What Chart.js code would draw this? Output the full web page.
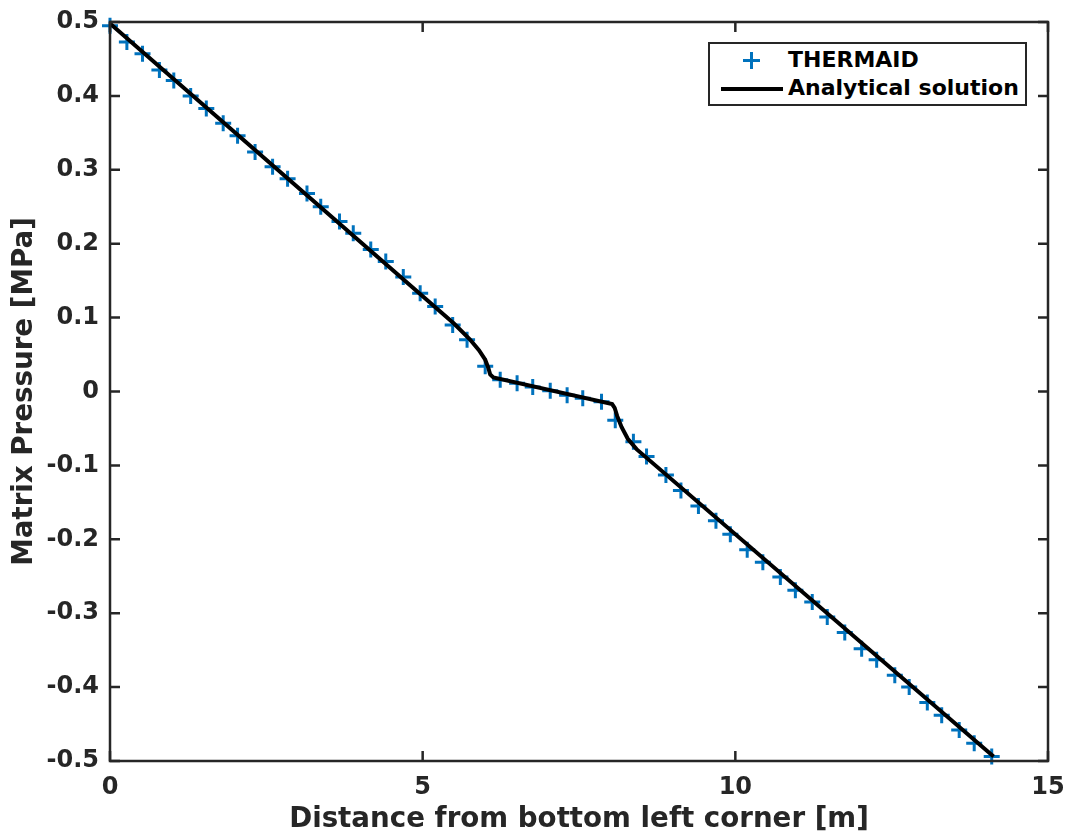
<!DOCTYPE html>
<html>
<head>
<meta charset="utf-8">
<script src="https://cdn.jsdelivr.net/npm/chart.js@4.4.0/dist/chart.umd.min.js"></script>
<style>
  body { margin: 0; background: #fff; }
  #wrap { position: relative; width: 1073px; height: 834px; }
  #legenda {
    position: absolute; left: 708px; top: 42px; width: 315px; height: 60px;
    border: 2px solid #262626; background: #fff;
    font-family: 'DejaVu Sans', sans-serif; font-weight: bold; font-size: 22px; color: #000;
  }
  .item { position: absolute; left: 78px; line-height: 26px; white-space: nowrap; }
  .mais-h { position: absolute; left: 33px; top: 15px; width: 17px; height: 3px; background: #0072BD; }
  .mais-v { position: absolute; left: 40px; top: 8px; width: 3px; height: 17px; background: #0072BD; }
  .traco { position: absolute; left: 11px; top: 43px; width: 62px; height: 4px; background: #000; }
</style>
</head>
<body>
<div id="wrap">
  <canvas id="grafico" width="1073" height="834"></canvas>
  <div id="legenda">
    <div class="mais-h"></div><div class="mais-v"></div>
    <div class="item" style="top:3px">THERMAID</div>
    <div class="traco"></div>
    <div class="item" style="top:31px">Analytical solution</div>
  </div>
</div>
<script>
// pontos do THERMAID
const thermaidX = [0, 0.27, 0.52, 0.79, 1.02, 1.29, 1.54, 1.81, 2.04, 2.32, 2.60, 2.84, 3.15, 3.37, 3.67, 3.89, 4.17, 4.41, 4.69, 4.96, 5.20, 5.48, 5.71, 6.00, 6.24, 6.51, 6.76, 7.04, 7.31, 7.56, 7.86, 8.08, 8.37, 8.58, 8.89, 9.13, 9.41, 9.69, 9.92, 10.19, 10.44, 10.72, 10.96, 11.23, 11.47, 11.75, 12.02, 12.26, 12.55, 12.78, 13.07, 13.30, 13.58, 13.82, 14.10];
const thermaidY = [0.495, 0.473, 0.457, 0.435, 0.421, 0.400, 0.383, 0.363, 0.346, 0.324, 0.304, 0.288, 0.268, 0.250, 0.230, 0.214, 0.192, 0.176, 0.155, 0.133, 0.115, 0.090, 0.070, 0.034, 0.016, 0.011, 0.006, 0.001, -0.005, -0.009, -0.014, -0.039, -0.068, -0.088, -0.113, -0.134, -0.155, -0.175, -0.193, -0.214, -0.231, -0.251, -0.269, -0.285, -0.305, -0.326, -0.348, -0.363, -0.384, -0.400, -0.421, -0.438, -0.458, -0.476, -0.494];

// solucao analitica
const analiticaX = [0, 5.5, 5.75, 5.9, 6.0, 6.05, 6.08, 6.13, 8.03, 8.07, 8.11, 8.18, 8.28, 8.42, 14.13];
const analiticaY = [0.498, 0.092, 0.071, 0.056, 0.043, 0.032, 0.023, 0.019, -0.017, -0.022, -0.033, -0.048, -0.064, -0.078, -0.494];

const xTicks = [0, 5, 10, 15];
const yTicks = [-0.5, -0.4, -0.3, -0.2, -0.1, 0, 0.1, 0.2, 0.3, 0.4, 0.5];

const corEixo = '#262626';
const fonte = "'DejaVu Sans', sans-serif";

const pares = (xs, ys) => xs.map((x, i) => ({ x: x, y: ys[i] }));

// caixa e ticks para dentro, estilo matlab
const caixaMatlab = {
  id: 'caixaMatlab',
  afterDatasetsDraw(chart) {
    const { ctx, chartArea: a, scales } = chart;
    const tam = 10;
    ctx.save();
    ctx.strokeStyle = corEixo;
    ctx.lineWidth = 2.5;
    ctx.strokeRect(a.left, a.top, a.right - a.left, a.bottom - a.top);
    ctx.beginPath();
    xTicks.forEach(v => {
      const px = scales.x.getPixelForValue(v);
      ctx.moveTo(px, a.bottom); ctx.lineTo(px, a.bottom - tam);
      ctx.moveTo(px, a.top); ctx.lineTo(px, a.top + tam);
    });
    yTicks.forEach(v => {
      const py = scales.y.getPixelForValue(v);
      ctx.moveTo(a.left, py); ctx.lineTo(a.left + tam, py);
      ctx.moveTo(a.right, py); ctx.lineTo(a.right - tam, py);
    });
    ctx.stroke();
    ctx.restore();
  }
};

const config = {
  type: 'scatter',
  data: {
    datasets: [
      {
        label: 'Analytical solution',
        data: pares(analiticaX, analiticaY),
        showLine: true,
        borderColor: '#000',
        borderWidth: 4,
        pointRadius: 0,
        tension: 0,
        order: 1,
        clip: false
      },
      {
        label: 'THERMAID',
        data: pares(thermaidX, thermaidY),
        pointStyle: 'cross',
        pointRadius: 8,
        pointBorderWidth: 3,
        borderColor: '#0072BD',
        backgroundColor: '#0072BD',
        order: 2,
        clip: false
      }
    ]
  },
  options: {
    responsive: false,
    animation: false,
    devicePixelRatio: 1,
    layout: { padding: { top: 22, right: 25, left: 0, bottom: 0 } },
    plugins: { legend: { display: false }, tooltip: { enabled: false } },
    scales: {
      x: {
        type: 'linear', min: 0, max: 15,
        afterBuildTicks: s => { s.ticks = xTicks.map(v => ({ value: v })); },
        afterFit: s => { s.height = 73; s.paddingLeft = 0; s.paddingRight = 0; },
        grid: { display: false, drawTicks: false },
        border: { display: false },
        ticks: { padding: 12, color: corEixo, font: { family: fonte, size: 24, weight: 'bold' } },
        title: {
          display: true, text: 'Distance from bottom left corner [m]', color: corEixo,
          font: { family: fonte, size: 27.7, weight: 'bold', lineHeight: 1 }, padding: { top: 0, bottom: 0 }
        }
      },
      y: {
        type: 'linear', min: -0.5, max: 0.5,
        afterBuildTicks: s => { s.ticks = yTicks.map(v => ({ value: v })); },
        afterFit: s => { s.width = 110; s.paddingTop = 0; s.paddingBottom = 0; },
        grid: { display: false, drawTicks: false },
        border: { display: false },
        ticks: {
          padding: 11, color: corEixo, font: { family: fonte, size: 24, weight: 'bold' },
          callback: v => String(Math.round(v * 10) / 10)
        },
        title: {
          display: true, text: 'Matrix Pressure [MPa]', color: corEixo,
          font: { family: fonte, size: 27.7, weight: 'bold', lineHeight: 1 }, padding: { top: 11, bottom: 0 }
        }
      }
    }
  },
  plugins: [caixaMatlab]
};

const meuGrafico = new Chart(document.getElementById('grafico'), config);
</script>
</body>
</html>
